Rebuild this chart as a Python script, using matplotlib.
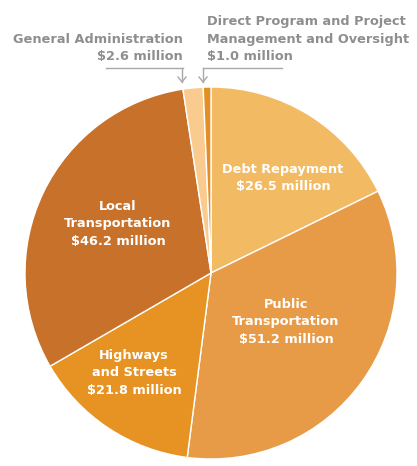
import matplotlib
matplotlib.use("Agg")
import matplotlib.pyplot as plt

categories = ["Debt Repayment", "Public Transportation", "Highways and Streets",
              "Local Transportation", "General Administration",
              "Direct Program and Project Management and Oversight"]
values = [26.5, 51.2, 21.8, 46.2, 2.6, 1.0]
colors = ["#F2BA63", "#E89B47", "#E69323", "#C8712A", "#F9CB8E", "#E38F22"]
inner_labels = ["Debt Repayment\n$26.5 million",
                "Public\nTransportation\n$51.2 million",
                "Highways\nand Streets\n$21.8 million",
                "Local\nTransportation\n$46.2 million"]

W, H = 417, 466
fig = plt.figure(figsize=(W / 100, H / 100), dpi=100)
cx, cy, r = 211, 273, 186
ax = fig.add_axes([(cx - r) / W, (H - cy - r) / H, 2 * r / W, 2 * r / H])
ax.pie(values, colors=colors, startangle=90, counterclock=False, radius=1,
       wedgeprops=dict(edgecolor="white", linewidth=1.0))
ax.set_xlim(-1, 1)
ax.set_ylim(-1, 1)
ax.axis("off")

def px(x, y):
    return x / W, 1 - y / H

label_pos = [(283, 178), (286, 322), (134, 373), (118, 224)]
for (x, y), txt in zip(label_pos, inner_labels):
    fig.text(*px(x, y), txt, color="white", fontsize=9.3, fontweight="bold",
             ha="center", va="center", linespacing=1.42, family="DejaVu Sans")

gray = "#8E8E8E"
fig.text(*px(183, 48), "General Administration\n$2.6 million", color=gray,
         fontsize=9.3, fontweight="bold", ha="right", va="center",
         linespacing=1.47, multialignment="right", family="DejaVu Sans")
fig.text(*px(207, 39), "Direct Program and Project\nManagement and Oversight\n$1.0 million",
         color=gray, fontsize=9.3, fontweight="bold", ha="left", va="center",
         linespacing=1.47, multialignment="left", family="DejaVu Sans")

# underline + arrows
lc = "#A8A8A8"
for (x0, x1, xa) in [(106, 183, 182), (203, 282, 203)]:
    fig.add_artist(plt.Line2D([x0 / W, x1 / W], [1 - 67.5 / H, 1 - 67.5 / H],
                              color=lc, lw=1.0, transform=fig.transFigure))
    fig.add_artist(plt.Line2D([xa / W, xa / W], [1 - 67.5 / H, 1 - 82 / H],
                              color=lc, lw=1.0, transform=fig.transFigure))
    fig.add_artist(plt.Line2D([(xa - 4) / W, xa / W, (xa + 4) / W],
                              [1 - 77 / H, 1 - 82 / H, 1 - 77 / H],
                              color=lc, lw=1.0, transform=fig.transFigure))

fig.savefig("out.png", dpi=100)
